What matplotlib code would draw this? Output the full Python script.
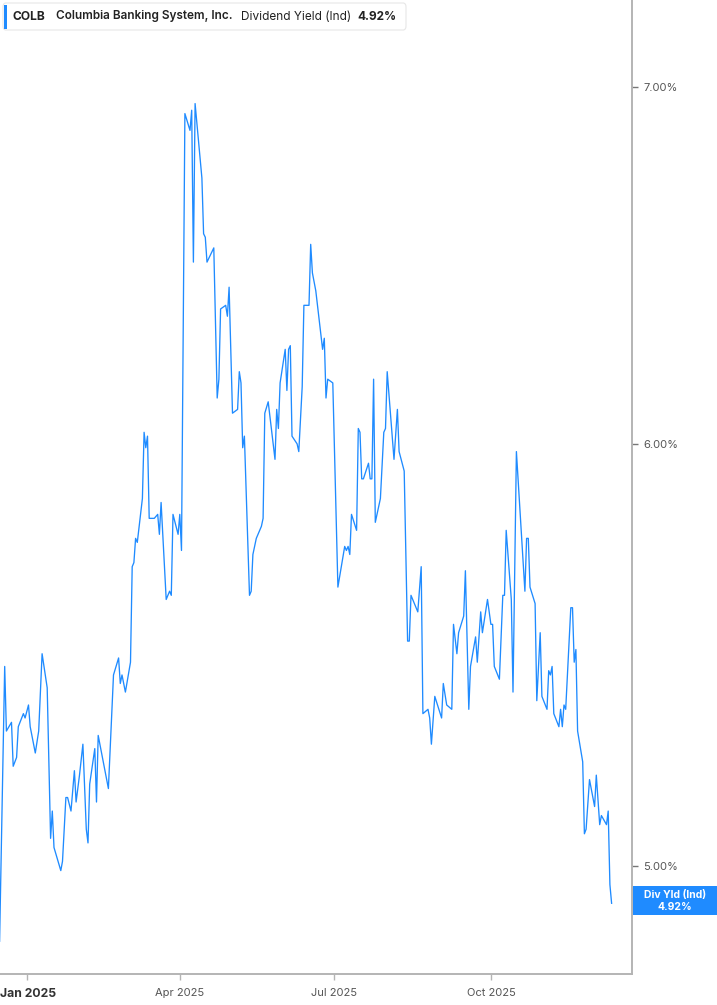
import numpy as np
import pandas as pd
import matplotlib
matplotlib.use("Agg")
import matplotlib.pyplot as plt
import matplotlib.transforms as mtransforms
from matplotlib.patches import FancyBboxPatch, Rectangle
from matplotlib.ticker import FixedLocator, NullLocator

plt.rcParams["font.family"] = ["Inter", "DejaVu Sans"]

ticker = "COLB"
company = "Columbia Banking System, Inc."
metric = "Dividend Yield (Ind)"
last_label = "4.92%"

dates = [
    "2024-12-16", "2024-12-19", "2024-12-20", "2024-12-23", "2024-12-24", "2024-12-26",
    "2024-12-27", "2024-12-30", "2024-12-31", "2025-01-02", "2025-01-03", "2025-01-06",
    "2025-01-08", "2025-01-10", "2025-01-13", "2025-01-15", "2025-01-16", "2025-01-17",
    "2025-01-21", "2025-01-22", "2025-01-24", "2025-01-25", "2025-01-27", "2025-01-29",
    "2025-01-30", "2025-02-01", "2025-02-03", "2025-02-05", "2025-02-06", "2025-02-07",
    "2025-02-10", "2025-02-11", "2025-02-12", "2025-02-14", "2025-02-18", "2025-02-21",
    "2025-02-24", "2025-02-25", "2025-02-26", "2025-02-28", "2025-03-03", "2025-03-04",
    "2025-03-05", "2025-03-06", "2025-03-07", "2025-03-10", "2025-03-11", "2025-03-12",
    "2025-03-13", "2025-03-14", "2025-03-17", "2025-03-19", "2025-03-20", "2025-03-21",
    "2025-03-24", "2025-03-26", "2025-03-27", "2025-03-28", "2025-03-31", "2025-04-01",
    "2025-04-02", "2025-04-04", "2025-04-07", "2025-04-08", "2025-04-09", "2025-04-10",
    "2025-04-14", "2025-04-15", "2025-04-16", "2025-04-17", "2025-04-21", "2025-04-23",
    "2025-04-24", "2025-04-25", "2025-04-28", "2025-04-29", "2025-04-30", "2025-05-02",
    "2025-05-05", "2025-05-06", "2025-05-07", "2025-05-08", "2025-05-09", "2025-05-12",
    "2025-05-13", "2025-05-14", "2025-05-16", "2025-05-19", "2025-05-20", "2025-05-21",
    "2025-05-23", "2025-05-27", "2025-05-28", "2025-05-29", "2025-05-30", "2025-06-02",
    "2025-06-03", "2025-06-04", "2025-06-05", "2025-06-06", "2025-06-09", "2025-06-10",
    "2025-06-12", "2025-06-13", "2025-06-16", "2025-06-17", "2025-06-18", "2025-06-20",
    "2025-06-24", "2025-06-25", "2025-06-26", "2025-06-27", "2025-06-30", "2025-07-03",
    "2025-07-07", "2025-07-08", "2025-07-09", "2025-07-10", "2025-07-11", "2025-07-14",
    "2025-07-15", "2025-07-16", "2025-07-17", "2025-07-18", "2025-07-21", "2025-07-22",
    "2025-07-23", "2025-07-24", "2025-07-25", "2025-07-28", "2025-07-30", "2025-07-31",
    "2025-08-01", "2025-08-05", "2025-08-07", "2025-08-08", "2025-08-11", "2025-08-13",
    "2025-08-14", "2025-08-15", "2025-08-19", "2025-08-21", "2025-08-22", "2025-08-25",
    "2025-08-26", "2025-08-27", "2025-08-29", "2025-09-02", "2025-09-03", "2025-09-05",
    "2025-09-08", "2025-09-09", "2025-09-11", "2025-09-12", "2025-09-15", "2025-09-16",
    "2025-09-18", "2025-09-19", "2025-09-22", "2025-09-23", "2025-09-25", "2025-09-26",
    "2025-09-29", "2025-10-01", "2025-10-02", "2025-10-03", "2025-10-06", "2025-10-08",
    "2025-10-09", "2025-10-10", "2025-10-13", "2025-10-14", "2025-10-16", "2025-10-21",
    "2025-10-22", "2025-10-23", "2025-10-24", "2025-10-27", "2025-10-28", "2025-10-30",
    "2025-10-31", "2025-11-03", "2025-11-04", "2025-11-05", "2025-11-06", "2025-11-07",
    "2025-11-10", "2025-11-11", "2025-11-12", "2025-11-13", "2025-11-14", "2025-11-17",
    "2025-11-18", "2025-11-19", "2025-11-20", "2025-11-21", "2025-11-24", "2025-11-25",
    "2025-11-26", "2025-11-28", "2025-12-01", "2025-12-02", "2025-12-04", "2025-12-05",
    "2025-12-08", "2025-12-09", "2025-12-10", "2025-12-11",
]

div_yield = [
    4.84, 5.45, 5.30, 5.32, 5.22, 5.24,
    5.31, 5.34, 5.33, 5.36, 5.31, 5.25,
    5.30, 5.48, 5.40, 5.06, 5.12, 5.04,
    4.99, 5.01, 5.15, 5.15, 5.12, 5.21,
    5.14, 5.20, 5.27, 5.08, 5.05, 5.18,
    5.26, 5.14, 5.29, 5.25, 5.17, 5.43,
    5.47, 5.41, 5.43, 5.39, 5.46, 5.69,
    5.70, 5.76, 5.75, 5.86, 6.03, 5.99,
    6.02, 5.81, 5.81, 5.82, 5.77, 5.85,
    5.61, 5.63, 5.62, 5.82, 5.77, 5.82,
    5.73, 6.92, 6.87, 6.93, 6.49, 6.95,
    6.73, 6.57, 6.56, 6.49, 6.53, 6.12,
    6.17, 6.36, 6.37, 6.34, 6.42, 6.08,
    6.09, 6.19, 6.16, 5.99, 6.02, 5.62,
    5.63, 5.72, 5.76, 5.79, 5.81, 6.08,
    6.11, 5.96, 6.09, 6.04, 6.16, 6.25,
    6.14, 6.25, 6.26, 6.02, 6.00, 5.98,
    6.15, 6.37, 6.37, 6.54, 6.46, 6.41,
    6.25, 6.28, 6.12, 6.17, 6.16, 5.64,
    5.74, 5.73, 5.74, 5.72, 5.82, 5.78,
    6.04, 6.03, 5.91, 5.91, 5.95, 5.91,
    5.91, 6.17, 5.80, 5.86, 6.03, 6.04,
    6.19, 5.96, 6.09, 5.98, 5.93, 5.51,
    5.51, 5.62, 5.58, 5.69, 5.34, 5.35,
    5.33, 5.27, 5.38, 5.33, 5.41, 5.36,
    5.35, 5.55, 5.48, 5.53, 5.57, 5.68,
    5.35, 5.45, 5.52, 5.46, 5.58, 5.53,
    5.61, 5.55, 5.55, 5.45, 5.42, 5.62,
    5.62, 5.78, 5.61, 5.39, 5.98, 5.63,
    5.76, 5.76, 5.64, 5.60, 5.37, 5.53,
    5.38, 5.35, 5.44, 5.43, 5.45, 5.34,
    5.31, 5.35, 5.31, 5.36, 5.35, 5.59,
    5.59, 5.46, 5.49, 5.30, 5.23, 5.07,
    5.08, 5.19, 5.13, 5.20, 5.09, 5.11,
    5.09, 5.12, 4.96, 4.92,
]

y_ticks = [5.0, 6.0, 7.0]
x_ticks = ["2025-01-01", "2025-04-01", "2025-07-01", "2025-10-01"]
x_tick_labels = ["Jan 2025", "Apr 2025", "Jul 2025", "Oct 2025"]

W, H = 717, 1005
fig = plt.figure(figsize=(W / 100, H / 100), dpi=100)
ax = fig.add_axes([0, 31 / H, 632 / W, 1 - 31 / H])

x = pd.to_datetime(dates)
ax.plot(x, div_yield, color="#1f8bff", lw=0.95)

ax.set_yscale("log")
ax.set_ylim(4.772, 7.268)
ax.yaxis.set_major_locator(FixedLocator(y_ticks))
ax.yaxis.set_minor_locator(NullLocator())
ax.set_yticklabels([f"{v:.2f}%" for v in y_ticks])
ax.yaxis.tick_right()

jan1 = pd.Timestamp("2025-01-01")
ax.set_xlim(jan1 - pd.Timedelta(days=15.76), jan1 + pd.Timedelta(days=356))
ax.set_xticks(pd.to_datetime(x_ticks))
ax.set_xticklabels(x_tick_labels)

for s in ["top", "left"]:
    ax.spines[s].set_visible(False)
for s in ["bottom", "right"]:
    ax.spines[s].set_color("#b4b4b4")
    ax.spines[s].set_linewidth(1.4)

ax.tick_params(axis="y", which="major", length=4, width=1, color="#777777",
               labelcolor="#555555", labelsize=8, pad=4)
ax.tick_params(axis="x", which="major", length=4, width=1, color="#b4b4b4",
               labelcolor="#555555", labelsize=8, pad=6)
xl = ax.get_xticklabels()
xl[0].set_fontweight("bold")
xl[0].set_fontsize(8.8)
xl[0].set_color("#333333")
xl[0].set_transform(xl[0].get_transform() +
                    mtransforms.ScaledTranslation(1.5 / 100, 0, fig.dpi_scale_trans))

# header box
fig.patches.append(FancyBboxPatch((3 / W, 1 - 30 / H), 403 / W, 27 / H,
                                  boxstyle="round,pad=0,rounding_size=0.004",
                                  transform=fig.transFigure, fc="white",
                                  ec="#e6e6e6", lw=0.8))
fig.patches.append(Rectangle((4 / W, 1 - 29 / H), 3 / W, 24 / H,
                             transform=fig.transFigure, fc="#1f8bff", ec="none"))
ty = 1 - 16.5 / H
fig.text(13 / W, ty, ticker, fontsize=8.7, fontweight="bold", color="#222222", va="center")
fig.text(56 / W, ty, company, fontsize=8.5, fontweight="semibold", color="#222222", va="center")
fig.text(241 / W, ty, metric, fontsize=8.5, color="#222222", va="center")
fig.text(357 / W, ty, last_label, fontsize=8.5, fontweight="bold", color="#222222", va="center")

# last value badge
fig.patches.append(Rectangle((633 / W, 1 - 915 / H), 84 / W, 29 / H,
                             transform=fig.transFigure, fc="#1f8bff", ec="none"))
fig.text(675 / W, 1 - 895 / H, "Div Yld (Ind)", fontsize=7.5, fontweight="bold",
         color="white", ha="center", va="center")
fig.text(675 / W, 1 - 906.5 / H, last_label, fontsize=7.5, fontweight="bold",
         color="white", ha="center", va="center")

fig.savefig("out.png", dpi=100, facecolor="white")
